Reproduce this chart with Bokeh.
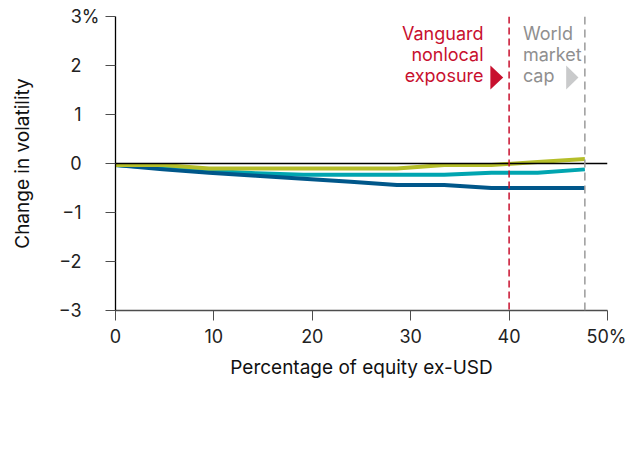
from bokeh.plotting import figure
from bokeh.models import Range1d, Span, Label, FixedTicker
from bokeh.embed import file_html
from bokeh.resources import INLINE

# ---- data ----
pct_ex_usd = [0, 4.8, 9.5, 14.3, 19.1, 23.9, 28.6, 33.4, 38.2, 42.9, 47.7]
series_navy = [-0.03, -0.12, -0.19, -0.25, -0.31, -0.37, -0.44, -0.44, -0.50, -0.50, -0.50]
series_teal = [-0.03, -0.09, -0.15, -0.20, -0.23, -0.23, -0.23, -0.23, -0.19, -0.19, -0.12]
series_green = [-0.03, -0.03, -0.10, -0.10, -0.10, -0.10, -0.10, -0.03, -0.03, 0.03, 0.09]
vanguard_nonlocal = 40
world_market_cap = 47.7
y_ticks = [-3, -2, -1, 0, 1, 2, 3]
y_tick_labels = ["−3", "−2", "−1", "0", "1", "2", "3%"]
x_ticks = [0, 10, 20, 30, 40, 50]
x_tick_labels = ["0", "10", "20", "30", "40", "50%"]

FONT = "Inter"
NAVY = "#00578a"
TEAL = "#00a5b0"
GREEN = "#b5be29"
RED = "#c8102e"
GREY_TXT = "#8f8f8f"
GREY_ARROW = "#c9cacb"
PAD = "\u2003"  # keeps the digits aligned while "%" hangs to the right

p = figure(width=626, height=440, output_backend="svg", toolbar_location=None,
           x_range=Range1d(0, 50), y_range=Range1d(-3, 3),
           min_border_left=115, min_border_right=19, min_border_top=16, min_border_bottom=130)
p.outline_line_color = None
p.grid.visible = False
p.background_fill_color = "white"
p.border_fill_color = "white"

# series
p.line(pct_ex_usd, series_teal, line_color=TEAL, line_width=4, line_join="round")
p.line(pct_ex_usd, series_navy, line_color=NAVY, line_width=4, line_join="round")
p.line(pct_ex_usd, series_green, line_color=GREEN, line_width=4, line_join="round")

# zero line
p.line([0, 50], [0, 0], line_color="black", line_width=1.3)

# reference lines
p.add_layout(Span(location=vanguard_nonlocal, dimension="height", line_color=RED,
                  line_width=1.5, line_dash="7 4"))
p.add_layout(Span(location=world_market_cap, dimension="height", line_color="#9a9a9a",
                  line_width=1.5, line_dash="8 5"))

# annotations
ann_y = [2.66, 2.23, 1.80]
for txt, yy in zip(["Vanguard", "nonlocal", "exposure"], ann_y):
    p.add_layout(Label(x=37.4, y=yy, text=txt, text_align="right", text_baseline="alphabetic",
                       text_color=RED, text_font=FONT, text_font_size="18px"))
for txt, yy in zip(["World", "market", "cap"], ann_y):
    p.add_layout(Label(x=41.4, y=yy, text=txt, text_align="left", text_baseline="alphabetic",
                       text_color=GREY_TXT, text_font=FONT, text_font_size="18px"))
p.patch([38.1, 39.4, 38.1], [2.0, 1.755, 1.51], fill_color=RED, line_color=None)
p.patch([45.8, 47.05, 45.8], [2.0, 1.755, 1.51], fill_color=GREY_ARROW, line_color=None)

# axes
xa = p.xaxis[0]
xa.ticker = FixedTicker(ticks=x_ticks)
xa.major_label_overrides = {t: l for t, l in zip(x_ticks, x_tick_labels)}
xa.minor_tick_line_color = None
xa.major_tick_out = 10
xa.major_tick_in = 0
xa.axis_line_color = "#4d4d4d"
xa.major_tick_line_color = "#4d4d4d"
xa.axis_line_width = 1.3
xa.major_label_standoff = 5
xa.major_label_text_font = FONT
xa.major_label_text_font_size = "18px"
xa.major_label_text_color = "#222222"
xa.axis_label = "Percentage of equity ex-USD"
xa.axis_label_text_font = FONT
xa.axis_label_text_font_size = "19px"
xa.axis_label_text_font_style = "normal"
xa.axis_label_text_color = "#111111"
xa.axis_label_standoff = 6

ya = p.yaxis[0]
ya.ticker = FixedTicker(ticks=y_ticks)
ya.major_label_overrides = {t: (l if l.endswith("%") else l + PAD)
                            for t, l in zip(y_ticks, y_tick_labels)}
ya.minor_tick_line_color = None
ya.major_tick_out = 10
ya.major_tick_in = 0
ya.axis_line_color = "black"
ya.axis_line_width = 1.3
ya.major_tick_line_color = "#4d4d4d"
ya.major_label_standoff = 6
ya.major_label_text_font = FONT
ya.major_label_text_font_size = "18px"
ya.major_label_text_color = "#222222"
ya.axis_label = "Change in volatility"
ya.axis_label_text_font = FONT
ya.axis_label_text_font_size = "19px"
ya.axis_label_text_font_style = "normal"
ya.axis_label_text_color = "#111111"
ya.axis_label_standoff = 22

open("out.html", "w").write(file_html(p, INLINE))
